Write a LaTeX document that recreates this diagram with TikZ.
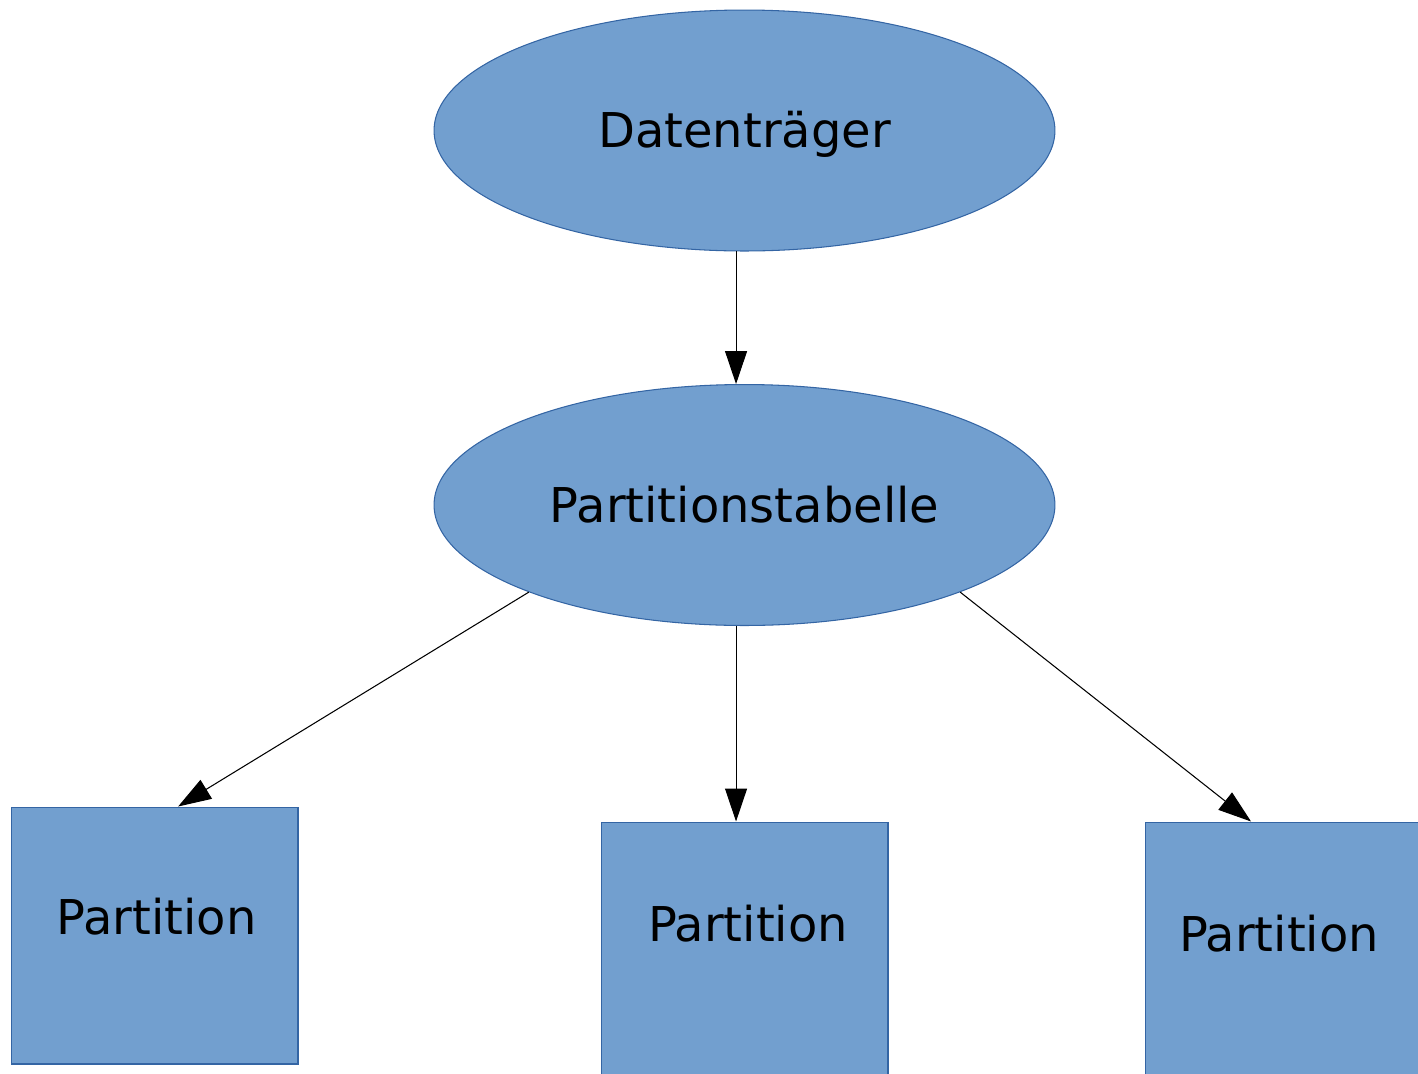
\documentclass[tikz,border=0pt]{standalone}
\usepackage{fontspec}
\setmainfont{DejaVu Sans}
\usetikzlibrary{shapes.geometric,arrows.meta,calc}
\definecolor{fillblue}{HTML}{729FCF}
\definecolor{lineblue}{HTML}{3465A4}
\tikzset{
	disk/.style={ellipse, draw=lineblue, fill=fillblue, line width=0.6pt,
		minimum width=12.42cm, minimum height=4.82cm, inner sep=0pt},
	part/.style={rectangle, draw=lineblue, fill=fillblue, line width=0.6pt,
		minimum width=5.74cm, minimum height=5.14cm, inner sep=0pt},
	txt/.style={font=\fontsize{27.3}{32}\selectfont, text height=19.9pt, text depth=0pt, inner sep=0pt},
	arr/.style={line width=0.6pt, -{Triangle[length=6.6mm,width=4.4mm]}},
}

\begin{document}
\begin{tikzpicture}[x=0.02cm, y=-0.02cm]
		\path[use as bounding box, clip] (0,0) rectangle (1418,1073);
		%
		\node[disk, txt] (dt) at (744.5,130.5) {Datenträger};
		\node[disk, txt] (pt) at (744.5,505) {Partitionstabelle};
		%
		\node[part] (p1) at (154.5,935.5) {};
		\node[part] (p2) at (744.5,950.5) {};
		\node[part] (p3) at (1288.5,950.5) {};
		%
		\node[txt] (t1) at (156.5,916.6) {Partition};
		\node[txt] (t2) at (748,924.5) {Partition};
		\node[txt] (t3) at (1279,934.5) {Partition};
		%
		\draw[arr] (dt.266) to (pt.94);
		\draw[arr] (pt.202) to ($(p1.north west)!0.582!(p1.north east)$);
		\draw[arr] (pt.266) to (pt.266 |- p2.north);
		\draw[arr] (pt.338) to ($(p3.north west)!0.37!(p3.north east)$);
	\end{tikzpicture}
\end{document}
